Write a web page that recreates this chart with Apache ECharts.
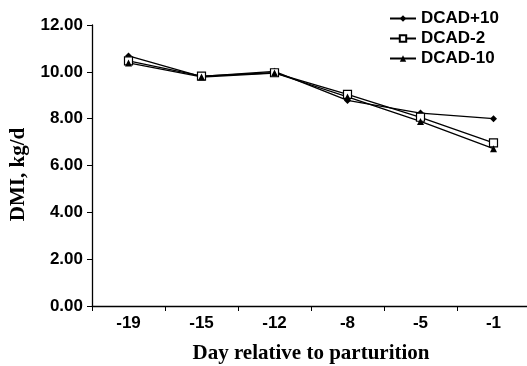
<!DOCTYPE html>
<html>
<head>
<meta charset="utf-8">
<script src="https://cdn.jsdelivr.net/npm/echarts@6/dist/echarts.min.js"></script>
<style>
  html, body { margin: 0; padding: 0; background: #fff; }
  #chart { width: 527px; height: 366px; }
</style>
</head>
<body>
<div id="chart"></div>
<script>
  const days = ['-19', '-15', '-12', '-8', '-5', '-1']
  const dcadPlus10 = [10.68, 9.80, 10.02, 8.78, 8.24, 8.00]
  const dcadMinus2 = [10.47, 9.82, 9.96, 9.04, 8.06, 6.97]
  const dcadMinus10 = [10.38, 9.78, 9.95, 8.93, 7.88, 6.72]
  const yTicks = [0, 2, 4, 6, 8, 10, 12]

  const sans = '"Liberation Sans", Arial, sans-serif'
  const serif = '"Liberation Serif", "Times New Roman", serif'

  const chart = echarts.init(document.getElementById('chart'))

  const lineSeries = (name, data, symbol, size, fill) => ({
    name,
    type: 'line',
    data,
    symbol,
    symbolSize: size,
    showAllSymbol: true,
    animation: false,
    lineStyle: { color: '#000', width: 1.3 },
    itemStyle: { color: fill, borderColor: '#000', borderWidth: fill === '#fff' ? 1.2 : 0 }
  })

  chart.setOption({
    backgroundColor: '#fff',
    grid: { left: 92, right: -3, top: 25, bottom: 60, containLabel: false, outerBoundsMode: 'none' },
    legend: {
      orient: 'vertical',
      left: 384,
      top: 5,
      itemWidth: 26,
      itemHeight: 8,
      itemGap: 3,
      textStyle: { fontFamily: sans, fontWeight: 'bold', fontSize: 17, color: '#000' },
      data: ['DCAD+10', 'DCAD-2', 'DCAD-10']
    },
    xAxis: {
      type: 'category',
      data: days,
      boundaryGap: true,
      name: 'Day relative to parturition',
      nameLocation: 'middle',
      nameGap: 37,
      nameTextStyle: { fontFamily: serif, fontWeight: 'bold', fontSize: 21, color: '#000' },
      axisLine: { lineStyle: { color: '#000', width: 1.3 } },
      axisTick: { show: true, length: 5, lineStyle: { color: '#000' } },
      axisLabel: { fontFamily: sans, fontWeight: 'bold', fontSize: 17, color: '#000', margin: 9 },
      splitLine: { show: false }
    },
    yAxis: {
      type: 'value',
      min: 0,
      max: 12,
      interval: 2,
      name: 'DMI, kg/d',
      nameLocation: 'middle',
      nameGap: 63,
      nameRotate: 90,
      // shift the title a bit below the axis middle, as in the original
      nameTextStyle: { fontFamily: serif, fontWeight: 'bold', fontSize: 21, color: '#000', padding: [0, 18, 0, 0] },
      axisLine: { show: true, lineStyle: { color: '#000', width: 1.3 } },
      axisTick: { show: true, length: 5, lineStyle: { color: '#000' } },
      axisLabel: {
        fontFamily: sans, fontWeight: 'bold', fontSize: 17, color: '#000', margin: 9,
        formatter: v => yTicks.includes(v) ? v.toFixed(2) : ''
      },
      splitLine: { show: false }
    },
    series: [
      lineSeries('DCAD+10', dcadPlus10, 'diamond', 7, '#000'),
      lineSeries('DCAD-2', dcadMinus2, 'rect', 8, '#fff'),
      lineSeries('DCAD-10', dcadMinus10, 'triangle', 7, '#000')
    ]
  })
</script>
</body>
</html>
